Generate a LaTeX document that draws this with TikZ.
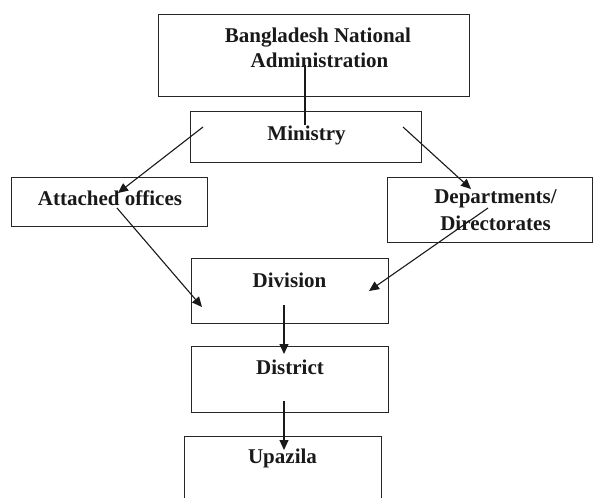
\documentclass[tikz,border=0pt]{standalone}
\usepackage{fontspec}
\setmainfont{Liberation Serif}
\usetikzlibrary{arrows.meta}
\begin{document}
\begin{tikzpicture}[x=1pt,y=-1pt,
  box/.style={draw=black!85,line width=1pt,inner sep=0pt,outer sep=0pt},
  lbl/.style={anchor=base,inner sep=0pt,font=\fontsize{21}{25}\selectfont\bfseries,text=black!90},
  link/.style={draw=black!90,line width=1.1pt},
  arr/.style={link,-{Triangle[length=10pt,width=9pt]}}]
\clip (0,0) rectangle (593,497);
\fill[white] (0,0) rectangle (593,497);
% boxes
\node[box,minimum width=311pt,minimum height=82pt] (nat) at (313.5,56) {};
\node[box,minimum width=231pt,minimum height=50pt] (min) at (305.5,137) {};
\node[box,minimum width=196pt,minimum height=49pt] (att) at (109,201.5) {};
\node[box,minimum width=205pt,minimum height=65pt] (dep) at (489.5,209.5) {};
\node[box,minimum width=197pt,minimum height=65pt] (div) at (289.5,290.5) {};
\node[box,minimum width=197pt,minimum height=66pt] (dis) at (289.5,379) {};
\node[box,minimum width=197pt,minimum height=90pt] (upa) at (282.5,481) {};
% labels
\node[lbl] (natA) at (318,43) {Bangladesh National};
\node[lbl] (natB) at (319.5,68) {Administration};
\node[lbl] (minT) at (306.5,140) {Ministry};
\node[lbl] (attT) at (110,205) {Attached offices};
\node[lbl] (depA) at (495.5,203) {Departments/};
\node[lbl] (depB) at (495.5,230) {Directorates};
\node[lbl] (divT) at (289.5,287) {Division};
\node[lbl] (disT) at (290,374) {District};
\node[lbl] (upaT) at (282.5,463) {Upazila};
% connector end points inside the boxes
\coordinate (natIn) at (305,65);
\coordinate (minUp) at (305,125);
\coordinate (minL) at (203,127);
\coordinate (minR) at (403,127);
\coordinate (attIn) at (118,193);
\coordinate (attOut) at (117,208);
\coordinate (depIn) at (471,189);
\coordinate (depOut) at (488,208);
\coordinate (divL) at (202,307);
\coordinate (divR) at (369,291);
\coordinate (divOut) at (284,305);
\coordinate (disIn) at (284,354);
\coordinate (disOut) at (284,401);
\coordinate (upaIn) at (284,450);
% connectors
\draw[link] (natIn) -- (minUp);
\draw[arr] (minL) -- (attIn);
\draw[arr] (minR) -- (depIn);
\draw[arr] (attOut) -- (divL);
\draw[arr] (depOut) -- (divR);
\draw[arr] (divOut) -- (disIn);
\draw[arr] (disOut) -- (upaIn);
\end{tikzpicture}
\end{document}
